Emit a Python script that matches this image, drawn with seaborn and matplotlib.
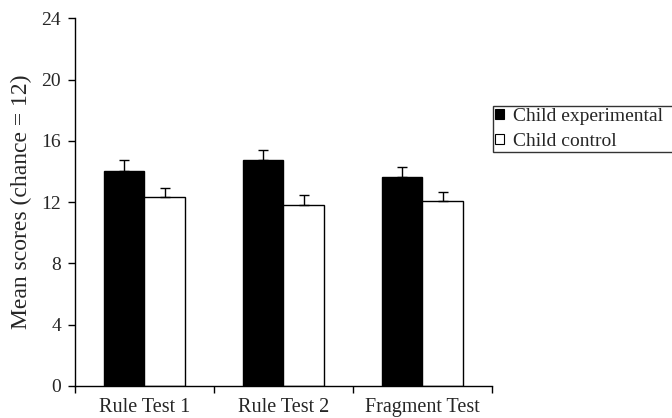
import matplotlib
matplotlib.use("Agg")
import matplotlib.pyplot as plt
import numpy as np
import pandas as pd
import seaborn as sns
from matplotlib.ticker import FixedLocator

# data
tests = ["Rule Test 1", "Rule Test 2", "Fragment Test"]
groups = ["Child experimental", "Child control"]
experimental_means = [14.05, 14.75, 13.62]
control_means = [12.35, 11.83, 12.07]
experimental_err = [0.70, 0.68, 0.66]
control_err = [0.60, 0.62, 0.58]
y_ticks = [0, 4, 8, 12, 16, 20, 24]

sns.set_theme(style="ticks")
plt.rcParams["font.family"] = ["Liberation Serif", "DejaVu Serif"]

df = pd.DataFrame({
    "test": tests * 2,
    "group": [groups[0]] * 3 + [groups[1]] * 3,
    "score": experimental_means + control_means,
})

fig = plt.figure(figsize=(6.72, 4.18), dpi=100)
ax = fig.add_axes([0.1116, 0.077, 0.732 - 0.1116, 0.956 - 0.077])

sns.barplot(
    data=df, x="test", y="score", hue="group", order=tests, hue_order=groups,
    palette=["black", "white"], edgecolor="black", linewidth=1.0,
    width=0.58, errorbar=None, ax=ax, legend=False,
)

# one-sided (upward) error bars on each bar
errs = experimental_err + control_err
for patch, err in zip(ax.patches, errs):
    xc = patch.get_x() + patch.get_width() / 2
    top = patch.get_height()
    ax.errorbar(xc, top, yerr=[[0], [err]], fmt="none", ecolor="black",
                elinewidth=1.0, capsize=3.4, capthick=1.0, zorder=3)

ax.set_ylim(0, 24)
ax.set_xlim(-0.5, 2.5)
ax.set_yticks(y_ticks)
ax.set_xlabel("")
ax.set_ylabel("Mean scores (chance = 12)", fontsize=17, labelpad=7)

ax.xaxis.set_minor_locator(FixedLocator([-0.5, 0.5, 1.5, 2.5]))
ax.tick_params(axis="x", which="major", length=0, pad=9, labelsize=14.5)
ax.tick_params(axis="x", which="minor", length=5, width=1.0, direction="out", color="black")
ax.tick_params(axis="y", length=5, width=1.0, pad=5, labelsize=14, color="black")

for side in ["top", "right"]:
    ax.spines[side].set_visible(False)
for side in ["left", "bottom"]:
    ax.spines[side].set_color("black")
    ax.spines[side].set_linewidth(1.0)

handles = [
    plt.Rectangle((0, 0), 1, 1, facecolor="black", edgecolor="black", linewidth=0.8),
    plt.Rectangle((0, 0), 1, 1, facecolor="white", edgecolor="black", linewidth=0.8),
]
# legend box runs off the right edge, as in the reference
leg = fig.legend(
    handles, groups, loc="upper left", bbox_to_anchor=(0.733, 0.4, 0.3, 0.347),
    mode="expand", fontsize=14, frameon=True, fancybox=False, edgecolor="black",
    handlelength=0.45, handleheight=0.45, handletextpad=0.5,
    borderpad=0.12, labelspacing=0.4, borderaxespad=0,
)
leg.get_frame().set_linewidth(1.0)

fig.savefig("out.png", dpi=100)
